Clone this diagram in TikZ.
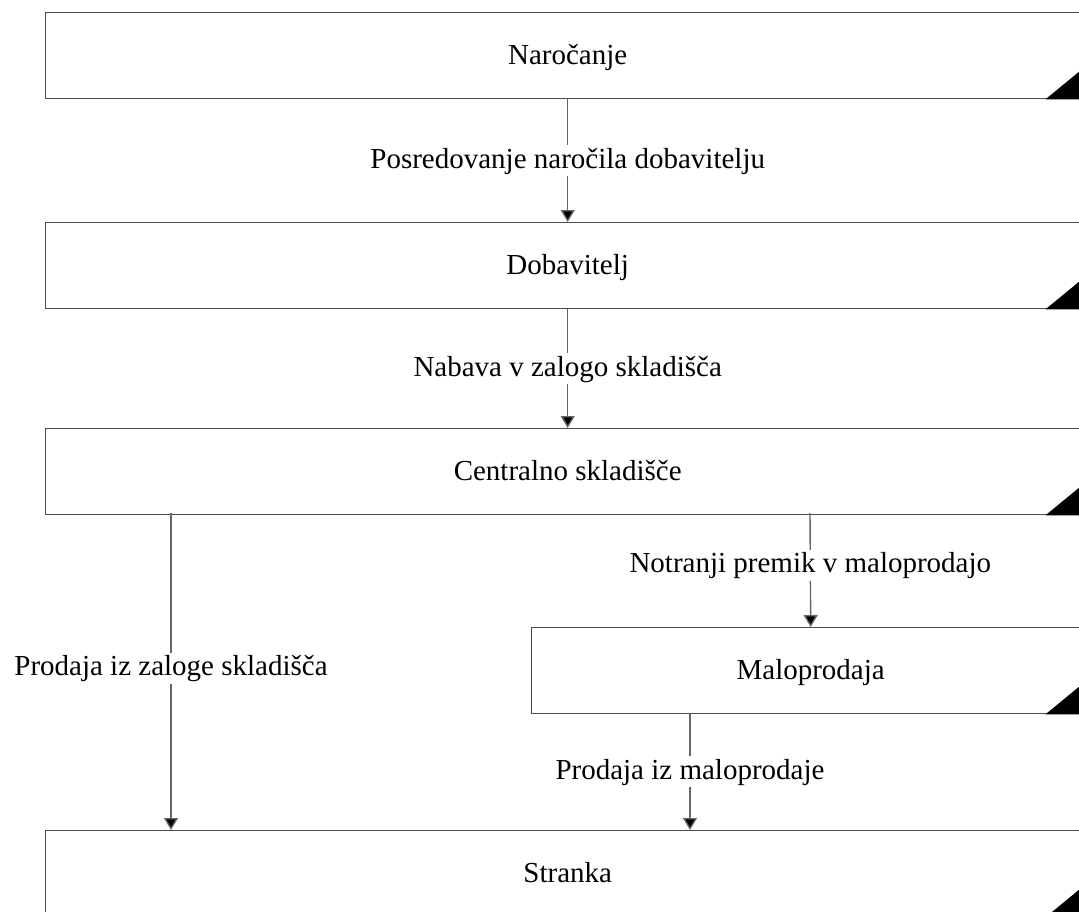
\documentclass[tikz,border=0pt]{standalone}
\usepackage{fontspec}
\setmainfont{Liberation Serif}
\usetikzlibrary{arrows.meta}
\begin{document}
\begin{tikzpicture}[x=1pt,y=-1pt,
  box/.style={draw=black!70,line width=1.4pt,fill=white,minimum width=1044pt,minimum height=86pt,inner sep=0pt,anchor=north west,text height=20pt,text depth=3pt,font=\fontsize{29}{34}\selectfont},
  sbox/.style={box,minimum width=558pt},
  conn/.style={draw=black!60,line width=1.4pt,-{Triangle[width=14pt,length=12pt,fill=black]}},
  lbl/.style={fill=white,inner sep=3pt,text height=20pt,text depth=5pt,font=\fontsize{29}{34}\selectfont},
  corner/.style={fill=black}]
\useasboundingbox (0,0) rectangle (1079,911);
\begin{scope}
\clip (0,0) rectangle (1079,911);
\node[box] (n1) at (45,12) {Naročanje};
\node[box] (n2) at (45,222) {Dobavitelj};
\node[box] (n3) at (45,428) {Centralno skladišče};
\node[sbox] (n4) at (531,627) {Maloprodaja};
\node[box] (n5) at (45,830) {Stranka};
\foreach \n in {n1,n2,n3,n4,n5}{
  \fill[corner] (\n.south east) ++(-45,0) -- ++(45,0) -- ++(0,-37) -- cycle;
}
\coordinate (a3) at (171,513);
\coordinate (b5) at (171,830);
\coordinate (c3) at (810,513);
\coordinate (d4) at (690,713);
\coordinate (e5) at (690,830);
\draw[conn] (n1.south) -- (n2.north) node[lbl,pos=0.5] (l1) {Posredovanje naročila dobavitelju};
\draw[conn] (n2.south) -- (n3.north) node[lbl,pos=0.5] (l2) {Nabava v zalogo skladišča};
\draw[conn] (c3) -- (n4.north) node[lbl,pos=0.46] (l3) {Notranji premik v maloprodajo};
\draw[conn] (a3) -- (b5) node[lbl,pos=0.49] (l4) {Prodaja iz zaloge skladišča};
\draw[conn] (d4) -- (e5) node[lbl,pos=0.5] (l5) {Prodaja iz maloprodaje};
\end{scope}
\end{tikzpicture}
\end{document}
